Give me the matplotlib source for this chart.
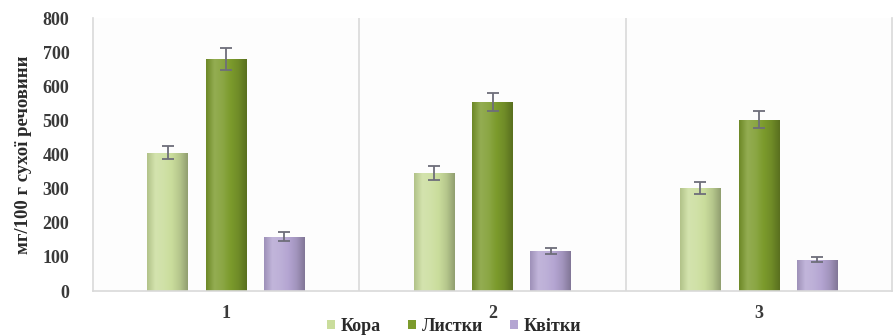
import numpy as np
import matplotlib
matplotlib.use("Agg")
import matplotlib.pyplot as plt
from matplotlib.colors import LinearSegmentedColormap, to_rgb

# Data: mg per 100 g dry matter
categories = ["1", "2", "3"]
series_names = ["Кора", "Листки", "Квітки"]
kora = [406, 347, 303]
lystky = [680, 555, 502]
kvitky = [160, 118, 92]
kora_err = [20, 20, 18]
lystky_err = [32, 26, 25]
kvitky_err = [13, 8, 7]
y_ticks = [0, 100, 200, 300, 400, 500, 600, 700, 800]
y_label = "мг/100 г сухої речовини"

values = [kora, lystky, kvitky]
errors = [kora_err, lystky_err, kvitky_err]
base_colors = ["#cadd9c", "#7c9b2c", "#b4a5d2"]

plt.rcParams['font.family'] = ['Liberation Serif', 'DejaVu Serif']
plt.rcParams['font.weight'] = 'bold'

fig = plt.figure(figsize=(8.94, 3.35), dpi=100)
ax = fig.add_axes([0.104, 0.131, 0.894, 0.815])
ax.set_facecolor('#fdfdfd')

x = np.arange(len(categories))
offsets = [-0.22, 0.0, 0.218]
width = 0.152

ax.set_xlim(-0.5, len(categories) - 0.5)
ax.set_ylim(0, 800)


def shade(c, f):
    r = np.array(to_rgb(c))
    if f >= 0:
        return tuple(r + (1 - r) * f)
    return tuple(r * (1 + f))


for vals, errs, off, col, name in zip(values, errors, offsets, base_colors, series_names):
    bars = ax.bar(x + off, vals, width, color=col, label=name, zorder=2,
                  edgecolor='none')
    cmap = LinearSegmentedColormap.from_list(
        name, [shade(col, -0.12), shade(col, 0.18), shade(col, 0.12),
               col, shade(col, -0.10), shade(col, -0.28)])
    grad = np.linspace(0, 1, 64).reshape(1, -1)
    for b in bars:
        x0, w, h = b.get_x(), b.get_width(), b.get_height()
        im = ax.imshow(grad, cmap=cmap, aspect='auto', extent=(x0, x0 + w, 0, h),
                       zorder=2.5, interpolation='bicubic')
        im.set_clip_path(b)
    ax.errorbar(x + off, vals, yerr=errs, fmt='none', ecolor='#6e6e7a',
                elinewidth=1.3, capsize=4, capthick=1.3, zorder=4)

# group separators
for sep in np.arange(0.5, len(categories) - 0.5, 1.0):
    ax.axvline(sep, color='#d9d9d9', lw=1.2, zorder=1)

ax.spines['top'].set_visible(False)
for side in ['left', 'right', 'bottom']:
    ax.spines[side].set_color('#d9d9d9')
    ax.spines[side].set_linewidth(1.2)

ax.set_yticks(y_ticks)
ax.set_xticks(x)
ax.set_xticklabels(categories)
ax.tick_params(axis='both', length=0, labelsize=13, colors='#3a3a3a')
ax.tick_params(axis='y', pad=17)
ax.tick_params(axis='x', pad=10)
for lbl in ax.get_xticklabels() + ax.get_yticklabels():
    lbl.set_fontweight('bold')

ax.set_ylabel(y_label, fontsize=13.5, fontweight='bold', color='#2a2a2a', labelpad=8)

handles, labels = ax.get_legend_handles_labels()
leg = fig.legend(handles, labels, loc='center', bbox_to_anchor=(0.508, 0.026),
                 ncol=3, frameon=False, fontsize=13, handlelength=0.45,
                 handleheight=0.45, handletextpad=0.3, columnspacing=1.5)
for t in leg.get_texts():
    t.set_color('#2a2a2a')
    t.set_fontweight('bold')

fig.savefig('out.png', dpi=100)
